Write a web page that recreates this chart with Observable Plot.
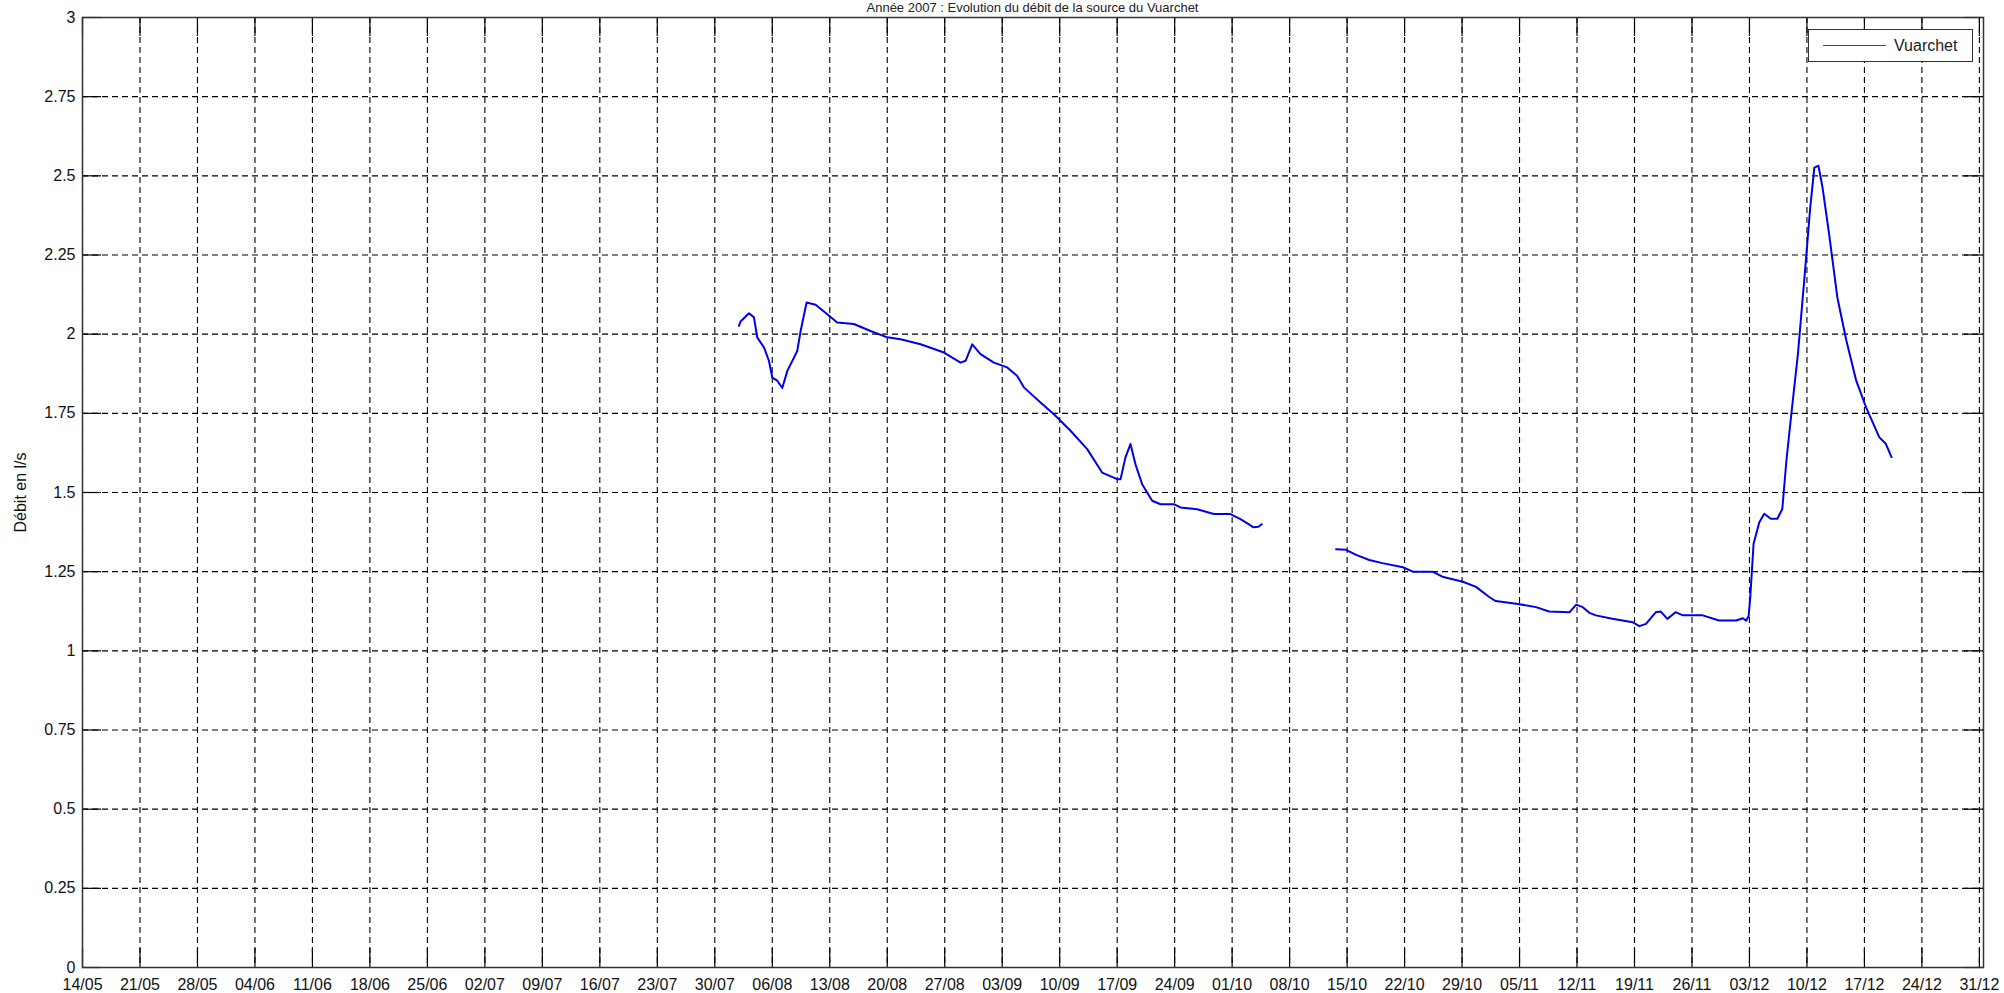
<!DOCTYPE html>
<html>
<head>
<meta charset="utf-8">
<script src="https://cdn.jsdelivr.net/npm/d3@7"></script>
<script src="https://cdn.jsdelivr.net/npm/@observablehq/plot@0.6"></script>
<style>
  html, body { margin: 0; padding: 0; background: #fff; overflow: hidden; }
  #wrap { position: relative; width: 2004px; height: 993px; font-family: "Liberation Sans", Arial, sans-serif; overflow: hidden; }
  #title { position: absolute; left: 82px; width: 1901px; top: 1px; text-align: center; font-size: 13px; line-height: 14px; color: #222; white-space: nowrap; }
  #chart { position: absolute; left: 0; top: 0; }
  #legend { position: absolute; left: 1808px; top: 29px; width: 163px; height: 31px; border: 1px solid #333; background: #fff; }
  #legend .sw { position: absolute; left: 14px; top: 15px; width: 63px; height: 0; border-top: 1px solid #3a3ad0; }
  #legend .lt { position: absolute; left: 85px; top: 6px; font-size: 16px; line-height: 20px; color: #222; }
</style>
</head>
<body>
<div id="wrap">
  <div id="chart"></div>
  <div id="title">Année 2007 : Evolution du débit de la source du Vuarchet</div>
  <div id="legend"><span class="sw"></span><span class="lt">Vuarchet</span></div>
</div>
<script>
// ---- data ----
const tickLabels = ["14/05","21/05","28/05","04/06","11/06","18/06","25/06","02/07","09/07","16/07","23/07","30/07",
  "06/08","13/08","20/08","27/08","03/09","10/09","17/09","24/09","01/10","08/10","15/10","22/10","29/10",
  "05/11","12/11","19/11","26/11","03/12","10/12","17/12","24/12","31/12"];
const yTicks = [0, 0.25, 0.5, 0.75, 1, 1.25, 1.5, 1.75, 2, 2.25, 2.5, 2.75, 3];
const seriesName = "Vuarchet";

const seg1Dates = ["2007-08-01T22:30","2007-08-02T03:20","2007-08-03T03:50","2007-08-03T18:30","2007-08-04T04:00",
  "2007-08-04T23:45","2007-08-05T14:10","2007-08-06T00:00","2007-08-06T14:40","2007-08-07T05:15","2007-08-07T20:00",
  "2007-08-09T01:00","2007-08-09T10:50","2007-08-10T04:20","2007-08-11T06:40","2007-08-12T16:50","2007-08-13T21:50",
  "2007-08-15T22:30","2007-08-17T23:15","2007-08-20T00:00","2007-08-21T14:50","2007-08-24T01:30","2007-08-26T21:40",
  "2007-08-28T22:20","2007-08-29T13:00","2007-08-30T08:25","2007-08-31T08:40","2007-09-01T23:45","2007-09-03T14:40",
  "2007-09-04T20:00","2007-09-05T15:20","2007-09-07T16:00","2007-09-09T07:00","2007-09-11T07:40","2007-09-13T08:25",
  "2007-09-15T04:05","2007-09-17T00:00","2007-09-17T09:50","2007-09-18T00:15","2007-09-18T14:50","2007-09-19T05:30",
  "2007-09-20T01:00","2007-09-21T06:15","2007-09-22T06:30","2007-09-23T21:35","2007-09-24T17:00","2007-09-26T17:45",
  "2007-09-28T18:30","2007-09-30T19:10","2007-10-02T00:15","2007-10-03T00:00","2007-10-03T14:25","2007-10-04T04:50",
  "2007-10-04T14:25"];
const seg1Values = [2.026,2.04,2.066,2.053,1.99,
  1.958,1.916,1.863,1.853,1.83,1.884,
  1.947,2.01,2.1,2.093,2.063,2.037,
  2.032,2.01,1.99,1.984,1.968,1.942,
  1.91,1.916,1.968,1.937,1.91,1.895,
  1.868,1.832,1.784,1.747,1.695,1.637,
  1.563,1.542,1.542,1.611,1.653,1.589,
  1.526,1.474,1.463,1.463,1.453,1.447,
  1.432,1.432,1.416,1.40,1.39,1.392,
  1.40];

const seg2Dates = ["2007-10-13T15:50","2007-10-14T21:00","2007-10-16T02:25","2007-10-17T16:50","2007-10-19T07:10",
  "2007-10-21T19:10","2007-10-23T00:00","2007-10-25T09:35","2007-10-26T14:25","2007-10-29T02:25","2007-10-30T16:50",
  "2007-11-01T07:10","2007-11-02T02:25","2007-11-04T14:25","2007-11-07T00:00","2007-11-08T14:25","2007-11-11T02:25",
  "2007-11-11T21:35","2007-11-12T16:50","2007-11-13T12:00","2007-11-14T07:10","2007-11-16T07:10","2007-11-18T19:10",
  "2007-11-19T14:25","2007-11-20T09:35","2007-11-21T14:25","2007-11-22T04:50","2007-11-23T00:00","2007-11-24T00:00",
  "2007-11-24T21:35","2007-11-27T07:10","2007-11-29T07:10","2007-12-01T09:35","2007-12-02T04:50","2007-12-02T14:25",
  "2007-12-02T21:35","2007-12-03T02:25","2007-12-03T12:00","2007-12-04T04:50","2007-12-04T19:10","2007-12-05T14:25",
  "2007-12-06T09:35","2007-12-07T00:00","2007-12-07T12:00","2007-12-08T02:25","2007-12-08T21:35","2007-12-09T16:50",
  "2007-12-10T09:35","2007-12-10T21:35","2007-12-11T09:35","2007-12-11T21:35","2007-12-12T16:50","2007-12-13T16:50",
  "2007-12-14T19:10","2007-12-16T00:00","2007-12-17T04:50","2007-12-18T19:10","2007-12-19T14:25","2007-12-20T07:10"];
const seg2Values = [1.321,1.319,1.303,1.287,1.277,
  1.264,1.25,1.25,1.234,1.218,1.202,
  1.17,1.157,1.149,1.138,1.124,1.122,
  1.146,1.138,1.12,1.112,1.101,1.09,
  1.078,1.085,1.122,1.124,1.101,1.122,
  1.112,1.112,1.096,1.096,1.103,1.095,
  1.11,1.17,1.338,1.406,1.433,1.417,
  1.417,1.448,1.601,1.748,1.937,2.18,
  2.4,2.526,2.532,2.463,2.316,2.116,
  1.98,1.853,1.769,1.675,1.654,1.612];

// ---- build ----
const parseTick = s => { const [d, m] = s.split("/"); return new Date(Date.UTC(2007, +m - 1, +d)); };
const tickDates = tickLabels.map(parseTick);
const toRows = (dates, values, seg) => dates.map((d, i) => ({date: new Date(d + ":00Z"), value: values[i], seg, name: seriesName}));
const data = [...toRows(seg1Dates, seg1Values, 1), ...toRows(seg2Dates, seg2Values, 2)];

const W = 2004, H = 993, mL = 82, mR = 21, mT = 17, mB = 26;
const innerW = W - mL - mR, innerH = H - mT - mB, tickLen = 19;
const xEnd = new Date(tickDates[tickDates.length - 1].getTime() + 12 * 3600 * 1000);

const chart = Plot.plot({
  width: W, height: H,
  marginLeft: mL, marginRight: mR, marginTop: mT, marginBottom: mB,
  style: {fontFamily: "'Liberation Sans', Arial, sans-serif", fontSize: "16px", color: "#111", background: "white"},
  x: {type: "utc", domain: [tickDates[0], xEnd]},
  y: {domain: [0, 3]},
  marks: [
    Plot.ruleX(tickDates, {stroke: "black", strokeWidth: 1.1, strokeDasharray: "6,4"}),
    Plot.ruleY(yTicks, {stroke: "black", strokeWidth: 1.1, strokeDasharray: "6,4"}),
    Plot.ruleX(tickDates, {stroke: "black", strokeWidth: 1.2, insetTop: innerH - tickLen}),
    Plot.ruleX(tickDates, {stroke: "black", strokeWidth: 1.2, insetBottom: innerH - tickLen}),
    Plot.ruleY(yTicks, {stroke: "black", strokeWidth: 1.2, insetRight: innerW - tickLen}),
    Plot.ruleY(yTicks, {stroke: "black", strokeWidth: 1.2, insetLeft: innerW - tickLen}),
    Plot.line(data, {x: "date", y: "value", z: "seg", stroke: "#0000e6", strokeWidth: 2}),
    Plot.frame({stroke: "#333", strokeWidth: 1.5}),
    Plot.axisX({ticks: tickDates, tickSize: 0, tickPadding: 11, tickFormat: d3.utcFormat("%d/%m"), label: null}),
    Plot.axisY({ticks: yTicks, tickSize: 0, tickPadding: 7, tickFormat: d => String(d),
      label: "Débit en l/s", labelAnchor: "center", labelArrow: "none", labelOffset: 68})
  ]
});
document.getElementById("chart").appendChild(chart);
</script>
</body>
</html>
